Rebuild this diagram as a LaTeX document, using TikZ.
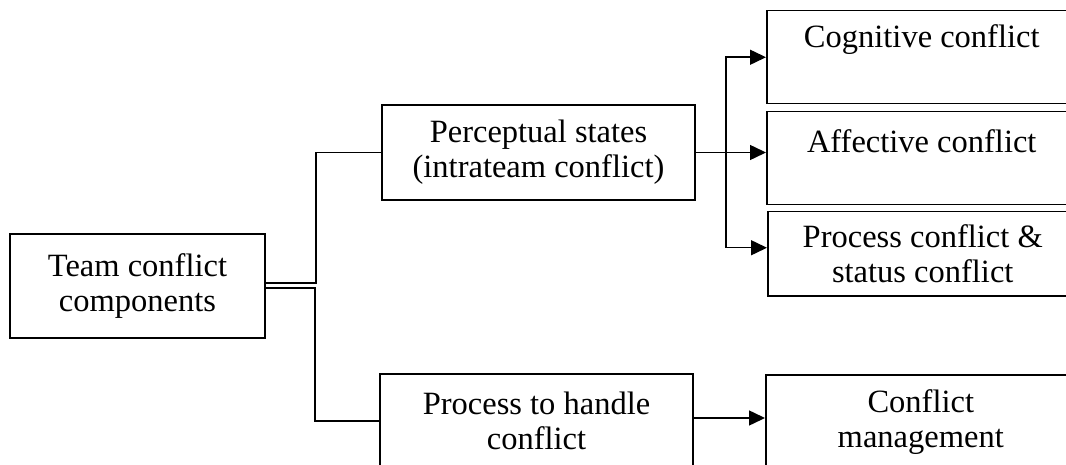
\documentclass[tikz,border=0pt]{standalone}
\usepackage{fontspec}
\setmainfont{Liberation Serif}[Ligatures=NoCommon]
\usetikzlibrary{arrows.meta}
\begin{document}
\begin{tikzpicture}[x=1pt,y=-1pt,
  every node/.style={font=\fontsize{32.5}{35}\selectfont},
  box/.style={draw,line width=1.5pt,rectangle,inner sep=0pt,align=center},
  conn/.style={line width=1.5pt},
  arr/.style={line width=1.5pt,-{Triangle[length=16pt,width=15pt]}}]
\useasboundingbox (0,0) rectangle (1066,465);
\clip (0,0) rectangle (1066,465);
\node[box,minimum width=255pt,minimum height=104pt] (team) at (137.5,286) {Team conflict\\components};
\node[box,minimum width=313pt,minimum height=95pt] (perc) at (538.5,152.5) {Perceptual states\\(intrateam conflict)};
\node[box,minimum width=313pt,minimum height=94pt] (proc) at (536.5,421) {Process to handle\\conflict};
\node[box,minimum width=310pt,text height=37pt,text depth=56pt,anchor=north west] (cog) at (766,10) {Cognitive conflict};
\node[box,minimum width=310pt,text height=41pt,text depth=52pt,anchor=north west] (aff) at (766,111) {Affective conflict};
\node[box,minimum width=310pt,minimum height=84pt,anchor=north west] (pc) at (767,211) {Process conflict \&\\status conflict};
\node[box,minimum width=310pt,minimum height=95pt,anchor=north west] (cm) at (765,374) {Conflict\\management};
% connectors from team
\draw[conn] ([yshift=3pt]team.east) -- ++(50,0) |- (perc.west);
\draw[conn] ([yshift=-2pt]team.east) -- ++(49,0) |- (proc.west);
% branch from perceptual states
\draw[conn] (perc.east) -- ++(30,0) coordinate (j);
\draw[arr] (j) |- (cog.west);
\draw[arr] (j) -- (j -| aff.west);
\draw[arr] (j) |- ([yshift=6pt]pc.west);
% bottom arrow
\draw[arr] (proc.east |- 0,418) -- (cm.west |- 0,418);
\end{tikzpicture}
\end{document}
